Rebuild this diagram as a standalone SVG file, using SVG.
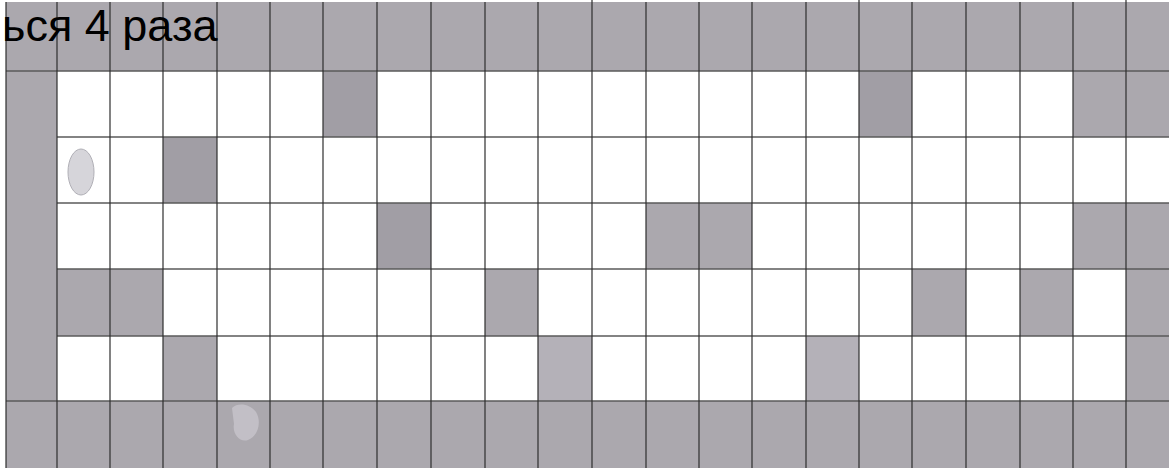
<svg xmlns="http://www.w3.org/2000/svg" width="1169" height="471" viewBox="0 0 1169 471">
  <style>
    .g { fill: #aba8ae; }
    .gd { fill: #a19ea5; }
    .gl { fill: #b4b1b8; }
    .v { stroke: #2e2e2e; stroke-width: 1.2; }
    .h { stroke: #5a5a5a; stroke-width: 1.4; }
    .t { font-family: "Liberation Sans", Arial, sans-serif; font-size: 45px; fill: #000; }
  </style>
  <rect x="0" y="0" width="1169" height="471" fill="#ffffff"/>
  <g id="border">
    <rect class="g" x="6" y="2" width="1163" height="69"/>
    <rect class="g" x="6" y="401" width="1163" height="67"/>
    <rect class="g" x="6" y="71" width="51" height="330"/>
  </g>
  <g id="cells">
    <!-- row 1 -->
    <rect class="gd" x="323" y="71" width="54" height="66"/>
    <rect class="gd" x="859" y="71" width="53" height="66"/>
    <rect class="g" x="1073" y="71" width="96" height="66"/>
    <!-- row 2 -->
    <rect class="gd" x="163" y="137" width="54" height="66"/>
    <!-- row 3 -->
    <rect class="gd" x="377" y="203" width="54" height="66"/>
    <rect class="g" x="646" y="203" width="106" height="66"/>
    <rect class="g" x="1073" y="203" width="96" height="66"/>
    <!-- row 4 -->
    <rect class="g" x="57" y="269" width="106" height="67"/>
    <rect class="g" x="485" y="269" width="53" height="67"/>
    <rect class="g" x="912" y="269" width="54" height="67"/>
    <rect class="g" x="1020" y="269" width="53" height="67"/>
    <rect class="g" x="1126" y="269" width="43" height="67"/>
    <!-- row 5 -->
    <rect class="g" x="163" y="336" width="54" height="65"/>
    <rect class="gl" x="538" y="336" width="54" height="65"/>
    <rect class="gl" x="806" y="336" width="53" height="65"/>
    <rect class="g" x="1126" y="336" width="43" height="65"/>
  </g>
  <g id="grid">
    <line class="h" x1="57" y1="137" x2="1169" y2="137"/>
    <line class="h" x1="57" y1="203" x2="1169" y2="203"/>
    <line class="h" x1="57" y1="269" x2="1169" y2="269"/>
    <line class="h" x1="57" y1="336" x2="1169" y2="336"/>
    <line class="h" x1="6" y1="71" x2="1169" y2="71"/>
    <line class="h" x1="6" y1="401" x2="1169" y2="401"/>
    <line class="v" x1="6" y1="2" x2="6" y2="468"/>
    <line class="v" x1="57" y1="2" x2="57" y2="468"/>
    <line class="v" x1="110" y1="2" x2="110" y2="468"/>
    <line class="v" x1="163" y1="2" x2="163" y2="468"/>
    <line class="v" x1="217" y1="2" x2="217" y2="468"/>
    <line class="v" x1="270" y1="2" x2="270" y2="468"/>
    <line class="v" x1="323" y1="2" x2="323" y2="468"/>
    <line class="v" x1="377" y1="2" x2="377" y2="468"/>
    <line class="v" x1="431" y1="2" x2="431" y2="468"/>
    <line class="v" x1="485" y1="2" x2="485" y2="468"/>
    <line class="v" x1="538" y1="2" x2="538" y2="468"/>
    <line class="v" x1="592" y1="0" x2="592" y2="468"/>
    <line class="v" x1="646" y1="2" x2="646" y2="468"/>
    <line class="v" x1="699" y1="2" x2="699" y2="468"/>
    <line class="v" x1="752" y1="2" x2="752" y2="468"/>
    <line class="v" x1="806" y1="2" x2="806" y2="468"/>
    <line class="v" x1="859" y1="0" x2="859" y2="468"/>
    <line class="v" x1="912" y1="2" x2="912" y2="468"/>
    <line class="v" x1="966" y1="2" x2="966" y2="468"/>
    <line class="v" x1="1020" y1="2" x2="1020" y2="468"/>
    <line class="v" x1="1073" y1="2" x2="1073" y2="468"/>
    <line class="v" x1="1126" y1="0" x2="1126" y2="468"/>
  </g>
  <g id="marks">
    <ellipse cx="81" cy="172" rx="13" ry="23" fill="#d6d5da" stroke="#b0afb6" stroke-width="1"/>
    <path d="M232,408 C238,402 250,404 256,412 C262,422 258,436 248,440 C240,443 232,434 234,424 Z" fill="#c2bfc6"/>
  </g>
  <text class="t" x="2" y="41">ься 4 раза</text>
</svg>
